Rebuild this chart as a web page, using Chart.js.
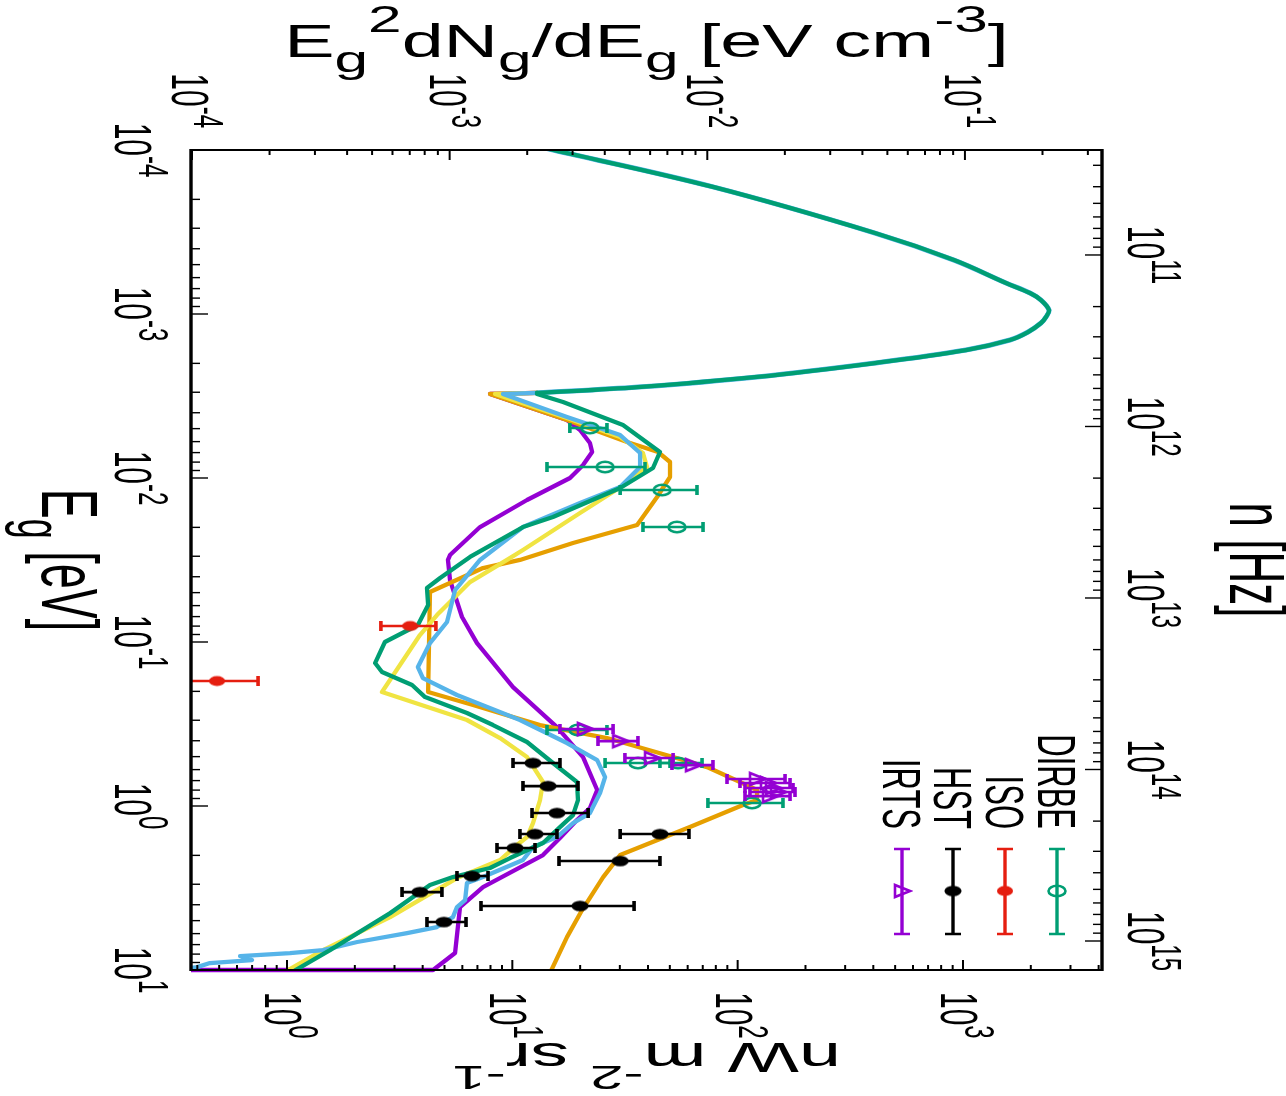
<!DOCTYPE html>
<html><head><meta charset="utf-8">
<script src="https://cdn.jsdelivr.net/npm/chart.js@4.4.1/dist/chart.umd.min.js"></script>
<style>html,body{margin:0;padding:0;background:#fff;overflow:hidden}canvas{display:block}</style>
</head><body>
<canvas id="c" width="1286" height="1096"></canvas>
<script>
// ================= DATA (E in eV, I in nW m^-2 sr^-1) =================
// CMB part shared by all models
const cmbE = [8.69e-5, 1.00e-4, 1.68e-4, 3.21e-4, 4.69e-4, 6.47e-4, 7.45e-4, 8.22e-4, 9.46e-4, 1.043e-3, 1.135e-3, 1.288e-3, 1.441e-3, 1.658e-3, 1.990e-3, 2.42e-3, 2.79e-3, 3.03e-3];
const cmbI = [9.77, 15.2, 77.7, 407, 912, 1552, 1983, 2220, 2409, 2336, 2220, 1944, 1617, 1031, 407, 121.9, 36.1, 12.87];

// EBL models (continuation after the CMB)
const violetE = [3.075e-3, 4.43e-3, 5.10e-3, 6.12e-3, 6.94e-3, 8.34e-3, 1.000e-2, 1.362e-2, 1.991e-2, 2.95e-2, 3.16e-2, 4.19e-2, 7.04e-2, 0.1015, 0.1882, 0.330, 0.503, 0.799, 1.029, 1.218, 1.568, 1.992, 3.12, 4.13, 7.88, 10.0, 10.0];
const violetI = [7.96, 17.48, 19.97, 22.1, 22.6, 20.6, 18.03, 11.62, 7.19, 5.29, 5.18, 5.29, 5.98, 6.97, 10.07, 15.78, 20.6, 23.8, 22.1, 19.36, 16.27, 13.68, 7.41, 5.86, 5.57, 4.45, 0.2];

const skyE = [3.075e-3, 4.25e-3, 5.47e-3, 7.04e-3, 8.57e-3, 1.135e-2, 1.421e-2, 1.991e-2, 3.16e-2, 4.82e-2, 7.55e-2, 0.1015, 0.1421, 0.1659, 0.2106, 0.2990, 0.413, 0.525, 0.666, 0.834, 1.104, 1.271, 1.546, 1.780, 2.136, 2.713, 2.95, 3.75, 4.13, 4.76, 5.47, 5.95, 6.75, 7.56, 7.88, 8.22, 8.70, 9.07, 9.60, 9.87];
const skyI = [9.09, 17.48, 30.1, 36.9, 36.9, 30.1, 19.97, 11.15, 7.19, 5.57, 5.13, 4.31, 3.81, 4.01, 5.68, 10.81, 17.48, 23.8, 25.8, 24.5, 22.1, 18.59, 15.78, 12.35, 11.15, 7.41, 6.29, 6.17, 5.68, 5.45, 4.63, 3.41, 2.05, 1.445, 1.031, 0.619, 0.699, 0.455, 0.399, 0.335];

const yellowE = [3.075e-3, 4.31e-3, 5.63e-3, 7.04e-3, 8.57e-3, 1.073e-2, 1.635e-2, 2.75e-2, 3.16e-2, 4.31e-2, 6.85e-2, 9.07e-2, 0.2019, 0.2990, 0.385, 0.503, 0.714, 0.920, 1.271, 1.546, 1.730, 2.136, 2.750, 4.76, 7.56, 11.04];
const yellowI = [8.38, 17.48, 30.1, 38.0, 39.6, 32.3, 19.97, 11.15, 9.47, 6.49, 4.63, 3.89, 2.64, 6.29, 8.82, 11.62, 13.68, 13.27, 12.35, 11.62, 10.49, 8.82, 5.68, 2.87, 1.445, 0.894];

const greenE = [3.075e-3, 3.44e-3, 4.75e-3, 6.94e-3, 8.69e-3, 1.151e-2, 1.730e-2, 1.991e-2, 3.03e-2, 4.07e-2, 4.69e-2, 5.95e-2, 7.88e-2, 0.1000, 0.1344, 0.1525, 0.1830, 0.2166, 0.2711, 0.3210, 0.4074, 0.547, 0.714, 0.920, 1.136, 1.344, 1.682, 2.077, 2.389, 2.713, 3.035, 4.50, 7.56, 10.74];
const greenI = [12.87, 16.79, 30.98, 45.2, 42.1, 30.1, 15.15, 11.15, 6.49, 4.78, 4.18, 4.23, 3.81, 2.72, 2.46, 2.64, 3.59, 4.10, 6.29, 8.21, 11.62, 15.15, 19.36, 19.56, 18.59, 16.27, 13.68, 9.77, 7.96, 5.45, 4.31, 2.87, 1.552, 1.000];

const orangeE = [3.075e-3, 4.43e-3, 6.03e-3, 6.94e-3, 7.99e-3, 9.86e-3, 1.306e-2, 1.935e-2, 2.49e-2, 3.16e-2, 3.54e-2, 4.96e-2, 0.2019, 0.2423, 0.3210, 0.385, 0.503, 0.579, 0.714, 0.799, 0.920, 0.987, 1.344, 1.992, 2.713, 4.31, 6.30, 10.74];
const orangeI = [7.96, 17.48, 32.3, 44.3, 50.1, 50.1, 43.9, 35.8, 18.59, 10.81, 7.41, 4.31, 4.23, 6.69, 13.27, 26.3, 51.7, 73.1, 102.4, 121.9, 121.9, 105.6, 61.4, 30.1, 25.3, 20.4, 17.48, 14.55];

// Measurements (value, lower and upper end of horizontal error bar)
const dirbeE  = [4.96e-3, 8.57e-3, 1.184e-2, 1.991e-2, 0.344, 0.547, 0.547, 0.959];
const dirbeI  = [22.1, 25.8, 46.2, 53.8, 19.56, 36.1, 54.4, 115.8];
const dirbeLo = [18.0, 14.25, 30.1, 38.0, 14.25, 25.8, 45.2, 73.8];
const dirbeHi = [26.3, 38.8, 66.0, 70.2, 26.3, 50.1, 69.5, 158.9];

const isoE  = [7.99e-2, 0.173];
const isoI  = [3.52, 0.489];
const isoLo = [2.61, 0.288];
const isoHi = [4.58, 0.744];

const hstE  = [0.547, 0.756, 1.104, 1.483, 1.483, 1.805, 2.166, 2.674, 3.35, 4.07, 5.10];
const hstI  = [12.35, 14.40, 15.78, 12.61, 45.2, 10.28, 30.1, 6.62, 3.89, 19.97, 4.97];
const hstLo = [10.07, 11.15, 12.23, 10.81, 30.1, 8.55, 16.11, 5.68, 3.24, 7.26, 4.18];
const hstHi = [16.27, 19.56, 21.7, 15.78, 60.8, 12.61, 45.2, 7.80, 4.87, 34.7, 6.23];

const irtsE  = [0.339, 0.402, 0.510, 0.563, 0.685, 0.724, 0.777, 0.822, 0.870];
const irtsI  = [21.0, 30.1, 41.7, 63.4, 121.9, 136.3, 143.5, 151.1, 139.2];
const irtsLo = [16.27, 24.0, 31.6, 51.1, 89.7, 102.4, 107.8, 113.4, 107.8];
const irtsHi = [28.0, 36.1, 51.7, 77.7, 162.3, 170.8, 176.1, 179.7, 170.8];

// Tick labels (exponents of 10)
const energyTickExps    = [-4, -3, -2, -1, 0, 1];
const intensityTickExps = [0, 1, 2, 3];
const densityTickExps   = [-4, -3, -2, -1];
const freqTickExps      = [11, 12, 13, 14, 15];

// Axis ranges
const intensityRange = [0.3749, 4140];
const energyRange    = [1e-4, 10];
const densityRange   = [9.911e-5, 0.3404];
const freqRange      = [2.443e10, 1.476e15];

const legendNames = ['IRTS', 'HST', 'ISO', 'DIRBE'];

// ================= STYLE / DRAWING =================
const C = { violet:'#9400D3', green:'#009E73', sky:'#56B4E9', orange:'#E69F00', yellow:'#F0E442', red:'#E51E10', black:'#000000' };
const STRETCH = 1.75;
const FONT = '"Liberation Sans", Arial, Helvetica, sans-serif';

function mk(w, h, draw) { const c = document.createElement('canvas'); c.width = w; c.height = h; draw(c.getContext('2d'), w, h); return c; }
const mHST = mk(20, 13, (g, w, h) => { g.fillStyle = C.black; g.beginPath(); g.ellipse(w/2, h/2, 8.5, 5.2, 0, 0, 2*Math.PI); g.fill(); });
const mISO = mk(20, 13, (g, w, h) => { g.fillStyle = C.red; g.beginPath(); g.ellipse(w/2, h/2, 8, 5, 0, 0, 2*Math.PI); g.fill(); });
const mDIRBE = mk(24, 16, (g, w, h) => { g.strokeStyle = C.green; g.lineWidth = 2.6; g.beginPath(); g.ellipse(w/2, h/2, 8.5, 5.2, 0, 0, 2*Math.PI); g.stroke(); });
const mIRTS = mk(22, 18, (g, w, h) => { g.strokeStyle = C.violet; g.lineWidth = 2.6; g.lineJoin = 'miter'; g.beginPath(); g.moveTo(4, 3); g.lineTo(w-3, h/2); g.lineTo(4, h-3); g.closePath(); g.stroke(); });

function toXY(E, I) { return E.map((e, i) => ({ x: I[i], y: e })); }
function lineDs(label, E, I, color, order, extra) {
  return Object.assign({ label, data: toXY(E, I), showLine: true, borderColor: color, backgroundColor: color, borderWidth: 4.3,
    pointRadius: 0, pointHoverRadius: 0, fill: false, tension: 0, order, borderJoinStyle: 'round', borderCapStyle: 'round',
    clip: { left: 0, top: 0, right: 0, bottom: 0 } }, extra || {});
}
function ptsDs(label, E, I, lo, hi, color, marker, order) {
  return { label, data: toXY(E, I), showLine: false, pointStyle: marker, pointRadius: 6, pointHoverRadius: 6,
    borderColor: color, backgroundColor: color, errLo: lo, errHi: hi, errColor: color, order };
}
// each model starts at the end of the CMB
const cmbLastE = cmbE[cmbE.length - 1], cmbLastI = cmbI[cmbI.length - 1];
const withStart = arr => [cmbLastE].concat(arr);
const withStartI = arr => [cmbLastI].concat(arr);

const datasets = [
  ptsDs('HST', hstE, hstI, hstLo, hstHi, C.black, mHST, 1),
  ptsDs('IRTS', irtsE, irtsI, irtsLo, irtsHi, C.violet, mIRTS, 2),
  ptsDs('ISO', isoE, isoI, isoLo, isoHi, C.red, mISO, 3),
  ptsDs('DIRBE', dirbeE, dirbeI, dirbeLo, dirbeHi, C.green, mDIRBE, 4),
  lineDs('CMB', cmbE, cmbI, C.green, 5, { tension: 0.35 }),
  lineDs('CMB (under)', cmbE, cmbI, C.sky, 11, { tension: 0.35, borderWidth: 5 }),
  lineDs('model green', withStart(greenE), withStartI(greenI), C.green, 6),
  lineDs('model sky', withStart(skyE), withStartI(skyI), C.sky, 7),
  lineDs('model yellow', withStart(yellowE), withStartI(yellowI), C.yellow, 8),
  lineDs('model orange', withStart(orangeE), withStartI(orangeI), C.orange, 9),
  lineDs('model violet', withStart(violetE), withStartI(violetI), C.violet, 10, { clip: { left: 0, top: 0, right: 0, bottom: 3 } })
];

function partsWidth(ctx, parts, f) {
  let w = 0;
  for (const [t, k] of parts) { ctx.font = (k ? 0.8*f : f) + 'px ' + FONT; w += ctx.measureText(t).width; }
  return w;
}
function drawRich(ctx, parts, x, y, angle, f, align, opt) {
  opt = opt || {};
  const sup = opt.sup != null ? opt.sup : 0.5, sub = opt.sub != null ? opt.sub : 0.3;
  const st = opt.stretch != null ? opt.stretch : STRETCH;
  ctx.save();
  ctx.translate(x, y);
  ctx.scale(st, 1);
  ctx.rotate(angle);
  ctx.fillStyle = '#000';
  ctx.textBaseline = 'alphabetic';
  ctx.textAlign = 'left';
  const w = partsWidth(ctx, parts, f);
  let cx = align === 'center' ? -w/2 : (align === 'right' ? -w : 0);
  for (const [t, k] of parts) {
    const size = k ? 0.8*f : f;
    ctx.font = size + 'px ' + FONT;
    const dy = k === 1 ? -sup*f : (k === -1 ? sub*f : 0);
    ctx.fillText(t, cx, dy);
    cx += ctx.measureText(t).width;
  }
  ctx.restore();
}
function logTicks(min, max) {
  const out = [];
  for (let e = Math.floor(Math.log10(min)); e <= Math.ceil(Math.log10(max)); e++) {
    for (let m = 1; m < 10; m++) {
      const v = m * Math.pow(10, e);
      if (v >= min * 0.999 && v <= max * 1.001) out.push({ v, major: m === 1 });
    }
  }
  return out;
}
const pow = e => Math.pow(10, e);
const CW = Math.PI / 2;

const errorBars = {
  id: 'errorBars',
  beforeDatasetDraw(chart, args) {
    const ds = chart.data.datasets[args.index];
    if (!ds.errLo) return;
    const ctx = chart.ctx, xs = chart.scales.x, ys = chart.scales.y, a = chart.chartArea;
    ctx.save();
    ctx.beginPath(); ctx.rect(a.left, a.top, a.right - a.left, a.bottom - a.top); ctx.clip();
    ctx.strokeStyle = ds.errColor;
    ds.data.forEach((p, i) => {
      const y = ys.getPixelForValue(p.y);
      const x1 = xs.getPixelForValue(ds.errLo[i]), x2 = xs.getPixelForValue(ds.errHi[i]);
      ctx.lineWidth = 2.6; ctx.beginPath(); ctx.moveTo(x1, y); ctx.lineTo(x2, y); ctx.stroke();
      ctx.lineWidth = 3.6; ctx.beginPath();
      ctx.moveTo(x1, y - 5); ctx.lineTo(x1, y + 5); ctx.moveTo(x2, y - 5); ctx.lineTo(x2, y + 5); ctx.stroke();
    });
    ctx.restore();
  }
};

const frame = {
  id: 'frame',
  afterDraw(chart) {
    const ctx = chart.ctx, a = chart.chartArea;
    const sx = chart.scales.x, sy = chart.scales.y, sx2 = chart.scales.x2, sy2 = chart.scales.y2;
    ctx.save();
    ctx.strokeStyle = '#000';
    ctx.lineWidth = 2;
    for (const t of logTicks(intensityRange[0], intensityRange[1])) {
      const x = sx.getPixelForValue(t.v), L = t.major ? 10 : 5;
      ctx.beginPath(); ctx.moveTo(x, a.bottom); ctx.lineTo(x, a.bottom - L); ctx.stroke();
    }
    for (const t of logTicks(densityRange[0], densityRange[1])) {
      const x = sx2.getPixelForValue(t.v), L = t.major ? 10 : 5;
      ctx.beginPath(); ctx.moveTo(x, a.top); ctx.lineTo(x, a.top + L); ctx.stroke();
    }
    ctx.lineWidth = 1.4;
    for (const t of logTicks(energyRange[0], energyRange[1])) {
      const y = sy.getPixelForValue(t.v), L = t.major ? 17 : 9;
      ctx.beginPath(); ctx.moveTo(a.left, y); ctx.lineTo(a.left + L, y); ctx.stroke();
    }
    for (const t of logTicks(freqRange[0], freqRange[1])) {
      const y = sy2.getPixelForValue(t.v), L = t.major ? 17 : 9;
      ctx.beginPath(); ctx.moveTo(a.right, y); ctx.lineTo(a.right - L, y); ctx.stroke();
    }
    ctx.lineWidth = 2.2;
    ctx.beginPath(); ctx.moveTo(a.left, a.top); ctx.lineTo(a.right, a.top); ctx.moveTo(a.left, a.bottom); ctx.lineTo(a.right, a.bottom); ctx.stroke();
    ctx.lineWidth = 3.4;
    ctx.beginPath(); ctx.moveTo(a.left, a.top - 1); ctx.lineTo(a.left, a.bottom + 1); ctx.moveTo(a.right, a.top - 1); ctx.lineTo(a.right, a.bottom + 1); ctx.stroke();
    ctx.restore();

    const tl = e => [['10', 0], [String(e), 1]];
    for (const e of energyTickExps) drawRich(ctx, tl(e), a.left - 76, sy.getPixelForValue(pow(e)), CW, 30, 'center', { sup: 0.45 });
    for (const e of freqTickExps) drawRich(ctx, tl(e), a.right + 26, sy2.getPixelForValue(pow(e)), CW, 30, 'center', { sup: 0.45 });
    for (const e of densityTickExps) drawRich(ctx, tl(e), sx2.getPixelForValue(pow(e)) - 20, a.top - 22, CW, 30, 'right', { sup: 0.42 });
    for (const e of intensityTickExps) drawRich(ctx, tl(e), sx.getPixelForValue(pow(e)) - 22, a.bottom + 22, CW, 30, 'left', { sup: 0.45 });

    const cxm = (a.left + a.right) / 2, cym = (a.top + a.bottom) / 2;
    drawRich(ctx, [['E',0],['g',-1],['2',1],['dN',0],['g',-1],['/dE',0],['g',-1],[' [eV cm',0],['-3',1],[']',0]], cxm, 57, 0, 46, 'center', { sup: 0.55, sub: 0.33, stretch: 1.64 });
    drawRich(ctx, [['nW m',0],['-2',1],[' sr',0],['-1',1]], cxm, 1043, Math.PI, 42, 'center', { sup: 0.55, stretch: 1.8 });
    drawRich(ctx, [['E',0],['g',-1],[' [eV]',0]], 42, cym, CW, 45, 'center', { sub: 0.3 });
    drawRich(ctx, [['n [Hz]',0]], 1230, cym, CW, 44, 'center');

    const legX = [902, 953, 1005, 1057];
    const legC = [C.violet, C.black, C.red, C.green];
    const legM = [mIRTS, mHST, mISO, mDIRBE];
    legendNames.forEach((n, i) => {
      drawRich(ctx, [[n, 0]], legX[i] - 19, 829, CW, 31, 'right');
      const x = legX[i];
      ctx.save();
      ctx.strokeStyle = legC[i];
      ctx.lineWidth = 3.4;
      ctx.beginPath(); ctx.moveTo(x, 849); ctx.lineTo(x, 934); ctx.stroke();
      ctx.lineWidth = 2.6;
      ctx.beginPath(); ctx.moveTo(x - 8, 849); ctx.lineTo(x + 8, 849); ctx.moveTo(x - 8, 934); ctx.lineTo(x + 8, 934); ctx.stroke();
      const m = legM[i];
      ctx.drawImage(m, x - m.width / 2, 891 - m.height / 2);
      ctx.restore();
    });
  }
};

new Chart(document.getElementById('c'), {
  type: 'scatter',
  data: { datasets },
  options: {
    responsive: false,
    animation: false,
    devicePixelRatio: 1,
    events: [],
    layout: { padding: { left: 191, top: 150, right: 184, bottom: 126 } },
    plugins: { legend: { display: false }, tooltip: { enabled: false } },
    scales: {
      x:  { type: 'logarithmic', position: 'bottom', min: intensityRange[0], max: intensityRange[1], display: false, bounds: 'data' },
      y:  { type: 'logarithmic', position: 'left', reverse: true, min: energyRange[0], max: energyRange[1], display: false, bounds: 'data' },
      x2: { type: 'logarithmic', position: 'top', min: densityRange[0], max: densityRange[1], display: false, bounds: 'data' },
      y2: { type: 'logarithmic', position: 'right', reverse: true, min: freqRange[0], max: freqRange[1], display: false, bounds: 'data' }
    }
  },
  plugins: [errorBars, frame]
});
</script>
</body></html>
